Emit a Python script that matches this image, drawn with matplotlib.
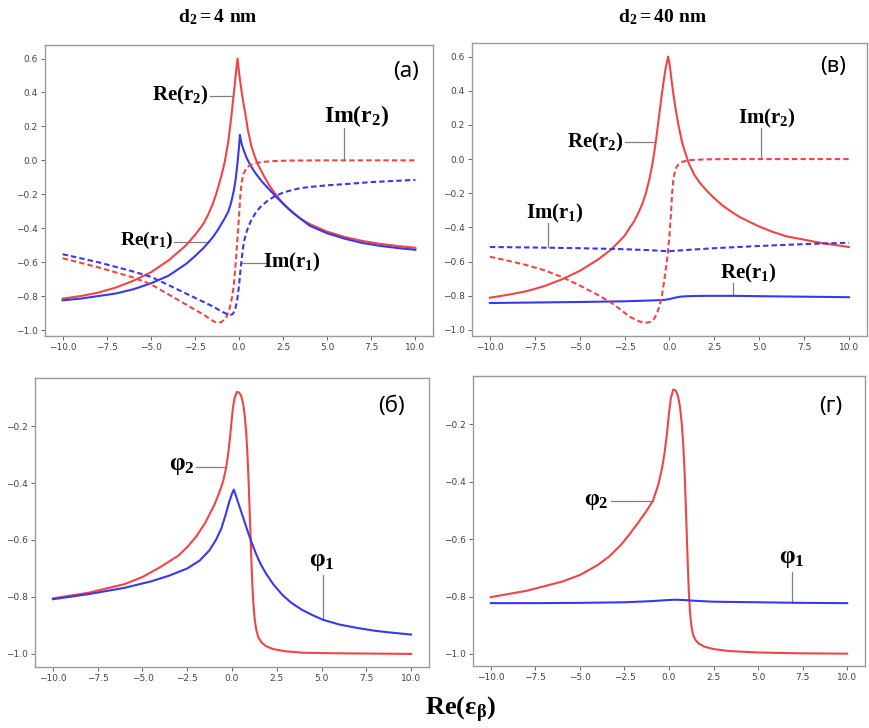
import matplotlib
matplotlib.use('Agg')
import matplotlib.pyplot as plt

plt.rcParams['mathtext.fontset'] = 'custom'
plt.rcParams['mathtext.rm'] = 'Liberation Serif:bold'
plt.rcParams['mathtext.it'] = 'Liberation Serif:bold'
plt.rcParams['mathtext.bf'] = 'Liberation Serif:bold'
plt.rcParams['mathtext.default'] = 'rm'

RED = '#f04545'
BLUE = '#3838f0'
GREY = '#808080'
DASH = (0, (2.6, 1.5))

# (a) d2 = 4 nm, reflection coefficients
a_re2_x = [-10, -9, -8, -7, -6, -5, -4, -3, -2.5, -2.2, -2.0, -1.75, -1.5, -1.3, -1.17, -1.0, -0.8, -0.61,
           -0.45, -0.33, -0.2, -0.085, 0.0, 0.1, 0.23, 0.35, 0.5, 0.7, 0.9, 1.1, 1.4, 1.7, 2.0, 2.5,
           3, 3.5, 4, 5, 6, 7, 8, 9, 10]
a_re2 = [-0.815, -0.80, -0.78, -0.75, -0.71, -0.66, -0.59, -0.50, -0.44, -0.40, -0.37, -0.32, -0.26, -0.20, -0.154, -0.09, -0.005, 0.11,
         0.245, 0.36, 0.49, 0.60, 0.52, 0.44, 0.35, 0.28, 0.18, 0.085, 0.02, -0.03, -0.09, -0.145, -0.19, -0.255,
         -0.305, -0.345, -0.375, -0.42, -0.452, -0.475, -0.492, -0.505, -0.515]

a_re1_x = [-10, -9, -8, -7, -6, -5, -4, -3, -2.5, -2, -1.5, -1.2, -1.0, -0.8, -0.6, -0.45, -0.3, -0.2, -0.1,
           0.0, 0.05, 0.12, 0.2, 0.3, 0.45, 0.6, 0.8, 1.0, 1.3, 1.7, 2.2, 2.7, 3.2, 4, 5, 6, 7, 8, 9, 10]
a_re1 = [-0.825, -0.815, -0.80, -0.785, -0.76, -0.725, -0.68, -0.61, -0.565, -0.515, -0.455, -0.41, -0.375, -0.34, -0.30, -0.25, -0.18, -0.12, -0.03,
         0.08, 0.15, 0.11, 0.08, 0.05, 0.01, -0.02, -0.055, -0.085, -0.125, -0.17, -0.225, -0.275, -0.32, -0.385, -0.43, -0.462, -0.487, -0.504, -0.517, -0.527]

a_im2_x = [-10, -8, -6, -5, -4, -3, -2, -1.5, -1.27, -1.0, -0.85, -0.7, -0.55, -0.4, -0.3, -0.2, -0.1,
           0.0, 0.08, 0.15, 0.25, 0.4, 0.6, 0.9, 1.3, 2, 3, 5, 7.5, 10]
a_im2 = [-0.577, -0.63, -0.69, -0.73, -0.79, -0.85, -0.91, -0.945, -0.957, -0.953, -0.94, -0.92, -0.88, -0.81, -0.74, -0.62, -0.48,
         -0.33, -0.20, -0.13, -0.08, -0.05, -0.03, -0.017, -0.009, -0.004, -0.001, 0.0, 0.0, 0.0]

a_im1_x = [-10, -8, -6, -5, -4, -3, -2, -1.5, -1.0, -0.7, -0.5, -0.35, -0.22, -0.1, 0.0, 0.07, 0.14,
           0.22, 0.3, 0.4, 0.5, 0.7, 1.0, 1.3, 1.6, 2.0, 2.5, 3, 3.5, 4.2, 5, 6, 7.5, 10]
a_im1 = [-0.553, -0.60, -0.655, -0.686, -0.735, -0.785, -0.835, -0.86, -0.89, -0.905, -0.912, -0.905, -0.88, -0.82, -0.74, -0.66, -0.59,
         -0.52, -0.47, -0.43, -0.40, -0.35, -0.30, -0.265, -0.24, -0.213, -0.19, -0.175, -0.163, -0.155, -0.147, -0.14, -0.128, -0.115]

# (в) d2 = 40 nm, reflection coefficients
v_re2_x = [-10, -9, -8, -7, -6, -5, -4, -3.24, -2.5, -2.2, -2.0, -1.75, -1.5, -1.3, -1.1, -0.95, -0.83, -0.7,
           -0.58, -0.46, -0.33, -0.2, -0.07, 0.03, 0.12, 0.22, 0.35, 0.5, 0.7, 0.9, 1.1, 1.4, 1.7, 2.04,
           2.5, 3, 3.5, 3.89, 4.5, 5, 5.74, 6.5, 7.59, 8.5, 10]
v_re2 = [-0.812, -0.795, -0.775, -0.745, -0.705, -0.655, -0.59, -0.529, -0.45, -0.40, -0.37, -0.32, -0.26, -0.195, -0.11, -0.03, 0.05, 0.15,
         0.25, 0.35, 0.45, 0.54, 0.60, 0.54, 0.46, 0.38, 0.29, 0.20, 0.10, 0.03, -0.03, -0.095, -0.14, -0.181,
         -0.23, -0.275, -0.312, -0.338, -0.37, -0.395, -0.426, -0.452, -0.474, -0.492, -0.515]

v_im2_x = [-10, -9, -8, -7, -6, -5, -4, -3.33, -2.8, -2.22, -1.7, -1.45, -1.2, -1.0, -0.85, -0.7, -0.55,
           -0.42, -0.3, -0.2, -0.1, 0.0, 0.08, 0.15, 0.22, 0.3, 0.4, 0.55, 0.75, 1.1, 2, 3, 10]
v_im2 = [-0.572, -0.595, -0.62, -0.65, -0.69, -0.74, -0.795, -0.835, -0.875, -0.923, -0.95, -0.957, -0.958, -0.95, -0.935, -0.905, -0.86,
         -0.80, -0.72, -0.64, -0.56, -0.45, -0.33, -0.20, -0.12, -0.075, -0.045, -0.027, -0.015, -0.006, -0.002, 0.0, 0.0]

v_im1_x = [-10, -7.5, -5, -2.5, -1, -0.1, 1, 2.5, 5, 7.5, 10]
v_im1 = [-0.515, -0.518, -0.522, -0.528, -0.534, -0.54, -0.532, -0.522, -0.509, -0.498, -0.49]

v_re1_x = [-10, -7.5, -5, -2.5, -1, -0.3, 0, 0.3, 0.6, 1, 2, 3.5, 5, 7.5, 10]
v_re1 = [-0.843, -0.84, -0.837, -0.833, -0.828, -0.825, -0.82, -0.812, -0.806, -0.803, -0.801, -0.801, -0.803, -0.806, -0.809]

# (б) d2 = 4 nm, phases
b_phi2_x = [-10, -8, -6, -5, -4, -3, -2.5, -2, -1.5, -1.0, -0.75, -0.5, -0.32, -0.22, -0.12, -0.03, 0.05, 0.15,
            0.27, 0.4, 0.52, 0.63, 0.72, 0.8, 0.87, 0.93, 0.98, 1.03, 1.08, 1.13, 1.19, 1.26, 1.35, 1.47,
            1.65, 1.9, 2.3, 3, 4, 6, 8, 10]
b_phi2 = [-0.805, -0.785, -0.755, -0.73, -0.695, -0.655, -0.625, -0.588, -0.54, -0.478, -0.44, -0.395, -0.343, -0.30, -0.245, -0.185, -0.135, -0.10,
          -0.08, -0.082, -0.095, -0.125, -0.17, -0.23, -0.31, -0.40, -0.49, -0.58, -0.67, -0.75, -0.82, -0.875, -0.915, -0.942,
          -0.96, -0.973, -0.983, -0.991, -0.996, -0.998, -0.999, -1.0]

b_phi1_x = [-10, -8, -6, -4.5, -3.5, -2.5, -1.8, -1.26, -0.9, -0.6, -0.35, -0.15, 0.0, 0.1, 0.35, 0.6,
            0.85, 1.1, 1.35, 1.6, 1.9, 2.3, 2.8, 3.3, 3.9, 4.5, 5.07, 6, 7, 8, 9, 10]
b_phi1 = [-0.808, -0.79, -0.768, -0.745, -0.725, -0.70, -0.672, -0.636, -0.60, -0.56, -0.51, -0.465, -0.437, -0.423, -0.47, -0.517,
          -0.565, -0.61, -0.65, -0.685, -0.718, -0.755, -0.792, -0.82, -0.845, -0.864, -0.88, -0.897, -0.909, -0.919, -0.926, -0.932]

# (г) d2 = 40 nm, phases
g_phi2_x = [-10, -8, -6, -5, -4, -3.37, -2.7, -2.24, -1.7, -1.3, -0.9, -0.6, -0.4, -0.25, -0.12, 0.0, 0.1, 0.24,
            0.38, 0.5, 0.62, 0.72, 0.8, 0.87, 0.93, 0.99, 1.05, 1.11, 1.18, 1.26, 1.36, 1.5, 1.7, 2.0,
            2.5, 3.36, 5, 7.5, 10]
g_phi2 = [-0.802, -0.78, -0.748, -0.725, -0.69, -0.661, -0.62, -0.585, -0.54, -0.505, -0.466, -0.41, -0.355, -0.30, -0.235, -0.16, -0.11, -0.078,
          -0.082, -0.10, -0.14, -0.20, -0.27, -0.36, -0.46, -0.57, -0.68, -0.78, -0.855, -0.905, -0.935, -0.953, -0.965, -0.975,
          -0.983, -0.99, -0.995, -0.998, -0.999]

g_phi1_x = [-10, -7.5, -5, -2.5, -1, 0, 0.3, 0.8, 1.5, 2.5, 5, 7.5, 10]
g_phi1 = [-0.823, -0.823, -0.822, -0.82, -0.816, -0.812, -0.811, -0.812, -0.815, -0.818, -0.82, -0.822, -0.823]

x_ticks = [-10, -7.5, -5, -2.5, 0, 2.5, 5, 7.5, 10]
top_yticks = [-1.0, -0.8, -0.6, -0.4, -0.2, 0.0, 0.2, 0.4, 0.6]
bot_yticks = [-1.0, -0.8, -0.6, -0.4, -0.2]

fig = plt.figure(figsize=(8.69, 7.28), dpi=100)
ax_a = fig.add_axes([0.0518, 0.5385, 0.4465, 0.3997])
ax_v = fig.add_axes([0.5431, 0.5385, 0.4545, 0.4025])
ax_b = fig.add_axes([0.0403, 0.0838, 0.4534, 0.3970])
ax_g = fig.add_axes([0.5443, 0.0852, 0.4511, 0.3984])


def style(ax, yticks, ylim):
    ax.set_xlim(-11, 11)
    ax.set_ylim(*ylim)
    ax.set_xticks(x_ticks)
    ax.set_yticks(yticks)
    ax.tick_params(labelsize=6.5, labelcolor='#444444', color='#666666', length=3, width=0.7, pad=2)
    for s in ax.spines.values():
        s.set_color('#9a9a9a')
        s.set_linewidth(1.0)


def leader(ax, xs, ys):
    ax.plot(xs, ys, color=GREY, lw=0.9, zorder=1)


def panel_letter(ax, txt, x, y):
    ax.text(x, y, txt, transform=ax.transAxes, fontsize=16, family='Noto Sans', ha='center', va='center')


# (a)
ax_a.plot(a_re2_x, a_re2, color=RED, lw=1.5)
ax_a.plot(a_re1_x, a_re1, color=BLUE, lw=1.5)
ax_a.plot(a_im2_x, a_im2, color=RED, lw=1.5, ls=DASH)
ax_a.plot(a_im1_x, a_im1, color=BLUE, lw=1.5, ls=DASH)
style(ax_a, top_yticks, (-1.035, 0.68))
panel_letter(ax_a, '(a)', 0.93, 0.91)
ax_a.text(-1.75, 0.38, r'$Re(r_2)$', fontsize=15, ha='right', va='center')
leader(ax_a, [-1.65, -0.32], [0.378, 0.378])
ax_a.text(6.67, 0.26, r'$Im(r_2)$', fontsize=17, ha='center', va='center')
leader(ax_a, [5.96, 5.96], [0.19, 0.0])
ax_a.text(-3.75, -0.47, r'$Re(r_1)$', fontsize=14, ha='right', va='center')
leader(ax_a, [-3.71, -1.72], [-0.48, -0.48])
ax_a.text(3.0, -0.60, r'$Im(r_1)$', fontsize=15, ha='center', va='center')
leader(ax_a, [0.13, 1.6], [-0.606, -0.606])

# (в)
ax_v.plot(v_re2_x, v_re2, color=RED, lw=1.5)
ax_v.plot(v_re1_x, v_re1, color=BLUE, lw=1.5)
ax_v.plot(v_im2_x, v_im2, color=RED, lw=1.5, ls=DASH)
ax_v.plot(v_im1_x, v_im1, color=BLUE, lw=1.5, ls=DASH)
style(ax_v, top_yticks, (-1.036, 0.68))
panel_letter(ax_v, '(в)', 0.914, 0.92)
ax_v.text(-2.55, 0.10, r'$Re(r_2)$', fontsize=15, ha='right', va='center')
leader(ax_v, [-2.5, -0.78], [0.101, 0.101])
ax_v.text(5.42, 0.24, r'$Im(r_2)$', fontsize=15, ha='center', va='center')
leader(ax_v, [5.09, 5.09], [0.18, 0.0])
ax_v.text(-6.39, -0.318, r'$Im(r_1)$', fontsize=15, ha='center', va='center')
leader(ax_v, [-6.76, -6.76], [-0.376, -0.516])
ax_v.text(4.4, -0.669, r'$Re(r_1)$', fontsize=15, ha='center', va='center')
leader(ax_v, [3.52, 3.52], [-0.728, -0.801])

# (б)
ax_b.plot(b_phi2_x, b_phi2, color=RED, lw=1.5)
ax_b.plot(b_phi1_x, b_phi1, color=BLUE, lw=1.5)
style(ax_b, bot_yticks, (-1.046, -0.031))
panel_letter(ax_b, '(б)', 0.905, 0.90)
ax_b.text(-2.05, -0.338, r'$φ_2$', fontsize=18, ha='right', va='center')
leader(ax_b, [-2.0, -0.32], [-0.343, -0.343])
ax_b.text(5.02, -0.675, r'$φ_1$', fontsize=18, ha='center', va='center')
leader(ax_b, [5.07, 5.07], [-0.722, -0.88])

# (г)
ax_g.plot(g_phi2_x, g_phi2, color=RED, lw=1.5)
ax_g.plot(g_phi1_x, g_phi1, color=BLUE, lw=1.5)
style(ax_g, bot_yticks, (-1.042, -0.031))
panel_letter(ax_g, '(г)', 0.913, 0.894)
ax_g.text(-3.4, -0.463, r'$φ_2$', fontsize=17, ha='right', va='center')
leader(ax_g, [-3.27, -0.9], [-0.466, -0.466])
ax_g.text(6.87, -0.667, r'$φ_1$', fontsize=18, ha='center', va='center')
leader(ax_g, [6.92, 6.92], [-0.713, -0.821])

fig.text(218 / 869, 1 - 17 / 728, r'$d_2 = 4\ nm$', fontsize=14, ha='center', va='center')
fig.text(663 / 869, 1 - 17 / 728, r'$d_2 = 40\ nm$', fontsize=14, ha='center', va='center')
fig.text(460 / 869, 1 - 710 / 728, r'$Re(ε_β)$', fontsize=19, ha='center', va='center')

fig.savefig('out.png', dpi=100)
